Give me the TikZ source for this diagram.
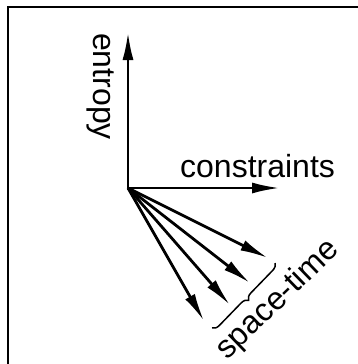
\documentclass[tikz,border=0pt]{standalone}
\usepackage{fontspec}
\setmainfont{Liberation Sans}
\usetikzlibrary{arrows.meta,decorations.pathreplacing}

\begin{document}
\begin{tikzpicture}[x=1pt,y=1pt,
  font=\fontsize{32}{38}\selectfont,
  ax/.style={line width=2.8pt,-{Latex[length=28pt,width=11pt]}},
  lbl/.style={inner sep=0pt},
  frm/.style={line width=2.6pt},
  brc/.style={decorate,decoration={brace,amplitude=7pt},line width=1.5pt}
]
\useasboundingbox (0,0) rectangle (358,-364);
% frame, only top and left edges show
\coordinate (tl) at (8,-7);
\coordinate (tr) at (358,-7);
\coordinate (bl) at (8,-364);
\draw[frm] (tr) -- (tl) -- (bl);

\coordinate (o) at (128,-188);
\coordinate (e) at (128,-32);
\coordinate (c) at (280,-188);
\coordinate (s1) at (268,-258);
\coordinate (s2) at (250,-283);
\coordinate (s3) at (230,-305);
\coordinate (s4) at (204,-321);

\draw[ax] (o) -- (e);
\draw[ax] (o) -- (c);
\foreach \i in {1,...,4}
  \draw[ax] (o) -- (s\i);

\coordinate (b1) at (275,-263);
\coordinate (b2) at (212,-328);
\draw[brc] (b1) -- (b2);

\node[lbl,rotate=-90,anchor=base west] (entropy) at (93,-33) {entropy};
\node[lbl,anchor=base west] (constraints) at (180,-177) {constraints};
\node[lbl,rotate=44] (spacetime) at (278,-300) {space-time};
\end{tikzpicture}
\end{document}
